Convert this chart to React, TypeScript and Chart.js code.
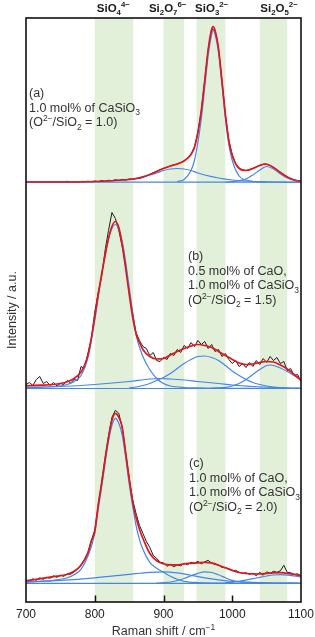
import React, { useEffect, useRef } from "react";
import { Chart, registerables } from "chart.js";

Chart.register(...registerables);

// ---------- axes ----------
const X_MIN = 700;
const X_MAX = 1100;
const X_STEP = 100;
const Y_MIN = 0;
const Y_MAX = 584;
const INNER_TICKS = [800, 900, 1000];

// ---------- highlighted bands (cm-1) ----------
const BAND_FROM = [800, 900, 948, 1040];
const BAND_TO = [856, 930, 990, 1080];
const BAND_LABEL_AT = [827, 906, 970, 1068];
const BAND_LABELS: [string, string][][] = [
  [["SiO", ""], ["4", "sub"], ["4\u2212", "sup"]],
  [["Si", ""], ["2", "sub"], ["O", ""], ["7", "sub"], ["6\u2212", "sup"]],
  [["SiO", ""], ["3", "sub"], ["2\u2212", "sup"]],
  [["Si", ""], ["2", "sub"], ["O", ""], ["5", "sub"], ["2\u2212", "sup"]],
];

// vertical offsets of the three stacked spectra (a), (b), (c)
const OFFSETS = [419.5, 213.5, 18.7];

// ---------- measured spectra (black), common grid ----------
const RAW_X = [
  700, 705, 710, 715, 720, 725, 730, 735, 740, 745, 750, 755, 760, 765, 770, 775, 780, 785, 790, 795,
  800, 805, 810, 815, 820, 825, 830, 835, 840, 845, 850, 855, 860, 865, 870, 875, 880, 885, 890, 895,
  900, 905, 910, 915, 920, 925, 930, 935, 940, 945, 950, 955, 960, 965, 970, 975, 980, 985, 990, 995,
  1000, 1005, 1010, 1015, 1020, 1025, 1030, 1035, 1040, 1045, 1050, 1055, 1060, 1065, 1070, 1075, 1080,
  1085, 1090, 1095, 1100,
];
const RAW_A = [
  0.5, 0.3, 0.8, 0.4, 0.6, 0.2, 0.7, 0.5, 0.3, 0.9, 0.4, 0.6, 1.2, 0.5, 0.8, 0.4, 1.0, 0.6, 1.2, 0.7,
  1.5, 0.9, 2.0, 1.2, 2.3, 1.6, 2.8, 2.0, 3.2, 2.4, 3.6, 3.0, 4.2, 4.0, 5.2, 6.5, 8.0, 9.8, 11.2, 12.8,
  14.2, 15.3, 16.6, 17.6, 18.6, 20.0, 21.8, 24.2, 28.5, 35.5, 50, 72, 102, 133, 153.5, 152, 134, 102, 68, 42,
  27.5, 19, 14.5, 12.5, 12, 12.8, 14.2, 15.6, 17, 18.2, 18.4, 17.2, 15.2, 12.8, 10.2, 7.8, 5.6,
  3.8, 2.6, 1.8, 1.4,
];
const RAW_B = [
  4, 6, 3, 9, 12, 5, 7, 3, 6, 2.5, 5, 4, 8, 5.5, 9, 8, 22, 20, 35, 50,
  76, 96, 112, 138, 158, 176, 170, 158, 142, 124, 96, 76, 56, 48, 42, 40, 33, 36, 28, 27,
  31, 29, 35, 33, 39, 36, 43, 40, 46, 42, 48, 44, 47, 40, 44, 37, 39, 32, 35, 29,
  25, 28, 22, 25, 21, 26, 22, 28, 24, 30, 26, 32, 28, 31, 25, 27, 18,
  20, 13, 14, 7,
];
const RAW_C = [
  3.5, 2, 4.5, 3, 5.5, 4, 6, 5, 7.5, 6, 8, 7, 9.5, 9, 11.5, 14, 18.5, 24, 31, 43,
  53, 78, 101, 125, 147, 166, 173, 170, 155, 131, 106, 84, 70, 58, 50, 42, 36, 28, 25, 21,
  20.5, 17, 19, 16.5, 18.5, 17.5, 20, 18.5, 21, 20, 22, 19.5, 21.5, 23, 20, 19, 18.5, 16, 15.5, 14.5,
  12.5, 13, 11, 10, 10.5, 9, 10, 7.5, 11, 8, 11.5, 10, 12, 11, 12.5, 18, 11,
  10.5, 9, 9.5, 7.5,
];

// ---------- fitted envelopes (red) ----------
const FIT_A_X = [700, 750, 800, 820, 840, 860, 880, 900, 910, 920, 930, 940, 945, 950, 955, 960, 965, 970, 972, 975, 980, 985, 990, 995, 1000, 1010, 1020, 1030, 1040, 1048, 1060, 1070, 1080, 1090, 1100];
const FIT_A_Y = [0.5, 0.5, 1, 1.5, 2.5, 3.8, 8, 14, 16.5, 18.5, 21.5, 28, 35, 50, 72, 102, 133, 153, 156, 152, 134, 102, 68, 42, 27, 14, 12, 14, 17, 18.5, 15, 10, 5.5, 2.5, 1.5];

const FIT_B_X = [700, 720, 740, 750, 760, 770, 780, 785, 790, 795, 800, 805, 810, 815, 820, 825, 830, 835, 840, 845, 850, 855, 860, 865, 870, 880, 890, 900, 910, 920, 930, 940, 950, 960, 970, 980, 990, 1000, 1010, 1020, 1030, 1040, 1050, 1060, 1070, 1080, 1090, 1100];
const FIT_B_Y = [2.7, 3.3, 4, 5, 6.8, 10, 16.6, 23, 33, 50, 72, 94, 114, 133, 150, 162, 167, 161, 143, 120, 95, 72, 55, 46, 39, 32, 29.5, 30, 33.5, 37, 40, 42.5, 44, 43, 41, 37, 33, 29, 25.5, 24, 24.5, 26, 27, 26.5, 23.5, 19.5, 14, 8];

const FIT_C_X = [700, 720, 740, 760, 770, 780, 790, 795, 800, 805, 810, 815, 820, 825, 830, 835, 840, 845, 850, 855, 860, 865, 870, 880, 890, 900, 910, 920, 930, 940, 950, 960, 970, 980, 990, 1000, 1010, 1020, 1030, 1040, 1050, 1060, 1070, 1080, 1090, 1100];
const FIT_C_Y = [2.5, 4.5, 6.6, 9, 12, 18, 30, 42, 52, 78, 100, 124, 146, 163, 170, 166, 156, 130, 105, 82, 66, 54, 45, 30, 22.5, 19.5, 18.5, 18.5, 19.5, 20, 20.5, 21, 20.5, 18, 15.5, 13, 10.8, 9.8, 9.4, 9.3, 9.8, 10.4, 10.6, 10, 8.8, 7.5];

// ---------- fitted components (blue) ----------
const COMP_A: [number[], number[]][] = [
  [[920, 930, 940, 945, 950, 955, 960, 965, 970, 972, 975, 980, 985, 990, 995, 1000, 1010, 1020, 1030, 1050],
   [1, 3, 12, 22, 40, 64, 95, 127, 148, 152, 148, 130, 98, 64, 38, 22, 6.5, 2.5, 1, 0.3]],
  [[700, 760, 800, 820, 840, 860, 880, 890, 900, 910, 920, 930, 940, 950, 960, 980, 1000, 1020, 1040, 1070, 1100],
   [0.2, 0.5, 1, 1.5, 2.5, 4, 7.5, 9.5, 12, 13.5, 14, 13.5, 12, 9.5, 7.5, 4.5, 2.5, 1.5, 0.8, 0.3, 0.1]],
  [[990, 1000, 1010, 1020, 1030, 1040, 1050, 1060, 1070, 1080, 1090, 1100],
   [0.3, 0.8, 1.8, 3.5, 7.5, 12.5, 16, 13.5, 8.5, 4.5, 2, 1]],
  [[700, 1100], [0.3, 0.3]],
];
const COMP_B: [number[], number[]][] = [
  [[700, 740, 760, 770, 780, 790, 800, 810, 820, 830, 840, 850, 860, 870, 880, 890, 900, 910, 930, 960, 1000, 1100],
   [0.8, 2, 4, 7, 13, 31, 68, 114, 150, 164, 147, 102, 54, 32, 19, 10, 5, 2.5, 1, 0.5, 0.2, 0]],
  [[700, 750, 800, 850, 880, 895, 910, 930, 950, 980, 1000, 1030, 1060, 1100],
   [1, 2, 4, 7, 9.5, 10, 9.5, 8.5, 7, 5, 3.5, 2, 1, 0.3]],
  [[850, 860, 870, 880, 890, 900, 910, 920, 930, 940, 950, 960, 970, 980, 990, 1000, 1010, 1020, 1030, 1040, 1050, 1060, 1080, 1100],
   [0.5, 1.5, 3, 5, 8, 11, 15, 20, 25, 29, 32, 32.5, 31, 28, 23, 17.5, 13, 9, 6, 4, 2.5, 1.5, 0.5, 0.2]],
  [[970, 980, 990, 1000, 1010, 1020, 1030, 1040, 1050, 1055, 1060, 1070, 1080, 1090, 1100],
   [0.3, 0.6, 1.2, 2.5, 5, 9, 14, 19, 23, 23.5, 23, 20.5, 17, 13, 9]],
  [[700, 1100], [0, 0]],
];
const COMP_C: [number[], number[]][] = [
  [[700, 740, 760, 770, 780, 790, 800, 805, 810, 815, 820, 825, 830, 835, 840, 845, 850, 855, 860, 865, 870, 880, 890, 900, 910, 920, 930, 950, 1000],
   [1, 3, 5.5, 8.5, 14, 27, 50, 74, 96, 120, 142, 158, 165, 160, 148, 126, 100, 78, 58, 44, 34, 21, 15, 11, 7, 4, 2, 0.8, 0.2]],
  [[700, 750, 800, 850, 880, 900, 920, 940, 960, 980, 1000, 1030, 1060, 1100],
   [1.5, 3, 5.5, 9, 11, 11.5, 10.5, 8, 5.5, 3.5, 2, 1, 0.5, 0.3]],
  [[890, 900, 910, 920, 930, 940, 950, 960, 970, 980, 990, 1000, 1010, 1020, 1040],
   [0.2, 0.6, 1.3, 2.8, 4.8, 7.5, 10, 11.5, 10.8, 8.5, 5.5, 3, 1.6, 0.8, 0.2]],
  [[990, 1000, 1010, 1020, 1030, 1040, 1050, 1060, 1070, 1080, 1090, 1100],
   [0.5, 1, 2, 3.2, 4.6, 6, 7.3, 8.3, 8.6, 8.2, 7.3, 6.2]],
  [[700, 1100], [0, 0]],
];

// ---------- annotations ----------
type Seg = [string, string];
const NOTE_A: Seg[][] = [
  [["(a)", ""]],
  [["1.0 mol% of CaSiO", ""], ["3", "sub"]],
  [["(O", ""], ["2\u2212", "sup"], ["/SiO", ""], ["2", "sub"], [" = 1.0)", ""]],
];
const NOTE_B: Seg[][] = [
  [["(b)", ""]],
  [["0.5 mol% of CaO,", ""]],
  [["1.0 mol% of CaSiO", ""], ["3", "sub"]],
  [["(O", ""], ["2\u2212", "sup"], ["/SiO", ""], ["2", "sub"], [" = 1.5)", ""]],
];
const NOTE_C: Seg[][] = [
  [["(c)", ""]],
  [["1.0 mol% of CaO,", ""]],
  [["1.0 mol% of CaSiO", ""], ["3", "sub"]],
  [["(O", ""], ["2\u2212", "sup"], ["/SiO", ""], ["2", "sub"], [" = 2.0)", ""]],
];

const FONT = '"Liberation Sans", Arial, Helvetica, sans-serif';
const RED = "#e3161d";
const BLUE = "#4386ec";
const BLACK = "#1c1c1c";

function drawRich(
  ctx: CanvasRenderingContext2D,
  x: number,
  y: number,
  segs: Seg[],
  size: number,
  weight: string,
  align: "left" | "center",
  color: string
) {
  const parts = segs.map(([t, k]) => {
    const fs = k ? size * 0.68 : size;
    ctx.font = `${weight} ${fs}px ${FONT}`;
    return { t, k, fs, w: ctx.measureText(t).width };
  });
  const total = parts.reduce((s, p) => s + p.w, 0);
  let cx = align === "center" ? x - total / 2 : x;
  ctx.fillStyle = color;
  ctx.textAlign = "left";
  ctx.textBaseline = "alphabetic";
  for (const p of parts) {
    ctx.font = `${weight} ${p.fs}px ${FONT}`;
    const dy = p.k === "sub" ? size * 0.28 : p.k === "sup" ? -size * 0.42 : 0;
    ctx.fillText(p.t, cx, y + dy);
    cx += p.w;
  }
}

const decoPlugin = {
  id: "deco",
  beforeDatasetsDraw(chart: any) {
    const { ctx, chartArea } = chart;
    const xs = chart.scales.x;
    ctx.save();
    ctx.fillStyle = "#e2efd9";
    BAND_FROM.forEach((f, i) => {
      const x0 = xs.getPixelForValue(f);
      const x1 = xs.getPixelForValue(BAND_TO[i]);
      ctx.fillRect(x0, chartArea.top, x1 - x0, chartArea.bottom - chartArea.top);
    });
    ctx.restore();
  },
  afterDraw(chart: any) {
    const { ctx, chartArea } = chart;
    const xs = chart.scales.x;
    const ys = chart.scales.y;
    ctx.save();
    // frame
    ctx.strokeStyle = "#111";
    ctx.lineWidth = 1.6;
    ctx.strokeRect(chartArea.left, chartArea.top, chartArea.right - chartArea.left, chartArea.bottom - chartArea.top);
    // inward ticks
    ctx.lineWidth = 1.5;
    INNER_TICKS.forEach((v) => {
      const px = Math.round(xs.getPixelForValue(v)) + 0.5;
      ctx.beginPath();
      ctx.moveTo(px, chartArea.bottom);
      ctx.lineTo(px, chartArea.bottom - 6.5);
      ctx.stroke();
    });
    // band labels above frame
    BAND_LABELS.forEach((segs, i) => {
      drawRich(ctx, xs.getPixelForValue(BAND_LABEL_AT[i]), chartArea.top - 6, segs, 11.5, "bold", "center", "#1a1a1a");
    });
    // annotations
    const notes: [Seg[][], number, number][] = [
      [NOTE_A, 29, 97],
      [NOTE_B, 188, 260],
      [NOTE_C, 189, 467],
    ];
    notes.forEach(([lines, x, y0]) => {
      lines.forEach((segs, j) => {
        drawRich(ctx, x, y0 + j * 14.6, segs, 12.5, "normal", "left", "#333");
      });
    });
    // axis titles
    const cx = (chartArea.left + chartArea.right) / 2;
    drawRich(ctx, cx, 635, [["Raman shift / cm", ""], ["\u22121", "sup"]], 12.5, "normal", "center", "#333");
    ctx.save();
    ctx.translate(16, (ys.top + ys.bottom) / 2);
    ctx.rotate(-Math.PI / 2);
    ctx.font = `12.5px ${FONT}`;
    ctx.fillStyle = "#333";
    ctx.textAlign = "center";
    ctx.textBaseline = "alphabetic";
    ctx.fillText("Intensity / a.u.", 0, 0);
    ctx.restore();
    ctx.restore();
  },
};

function pts(xs: number[], ys: number[], off: number) {
  return xs.map((x, i) => ({ x, y: ys[i] + off }));
}

export default function App() {
  const ref = useRef<HTMLCanvasElement | null>(null);

  useEffect(() => {
    document.body.style.margin = "0";
    const canvas = ref.current;
    if (!canvas) return;

    const datasets: any[] = [];
    const fits: [number[], number[]][] = [
      [FIT_A_X, FIT_A_Y],
      [FIT_B_X, FIT_B_Y],
      [FIT_C_X, FIT_C_Y],
    ];
    const comps = [COMP_A, COMP_B, COMP_C];
    const raws = [RAW_A, RAW_B, RAW_C];

    fits.forEach(([fx, fy], i) => {
      datasets.push({
        data: pts(fx, fy, OFFSETS[i]),
        borderColor: RED,
        borderWidth: 1.7,
        cubicInterpolationMode: "monotone",
        order: 0,
      });
    });
    comps.forEach((list, i) => {
      list.forEach(([cxs, cys]) => {
        datasets.push({
          data: pts(cxs, cys, OFFSETS[i]),
          borderColor: BLUE,
          borderWidth: 1.2,
          cubicInterpolationMode: "monotone",
          order: 1,
        });
      });
    });
    raws.forEach((r, i) => {
      datasets.push({
        data: pts(RAW_X, r, OFFSETS[i]),
        borderColor: BLACK,
        borderWidth: 1,
        tension: 0,
        order: 2,
      });
    });

    const chart = new Chart(canvas, {
      type: "line",
      data: { datasets },
      options: {
        animation: false,
        responsive: false,
        maintainAspectRatio: false,
        devicePixelRatio: 1,
        events: [],
        elements: { point: { radius: 0 }, line: { fill: false } },
        layout: { padding: { left: 0, right: 14, top: 18, bottom: 0 } },
        plugins: { legend: { display: false }, tooltip: { enabled: false } },
        scales: {
          x: {
            type: "linear",
            min: X_MIN,
            max: X_MAX,
            grid: { display: false, drawTicks: false },
            border: { display: false },
            ticks: {
              stepSize: X_STEP,
              padding: 5,
              maxRotation: 0,
              autoSkip: false,
              color: "#222",
              font: { size: 12, family: FONT },
              callback: (v: any) => String(v),
            },
            afterFit: (s: any) => {
              s.height = 35;
              s.paddingLeft = 0;
              s.paddingRight = 0;
            },
          },
          y: {
            type: "linear",
            min: Y_MIN,
            max: Y_MAX,
            grid: { display: false, drawTicks: false },
            border: { display: false },
            ticks: { display: false },
            afterFit: (s: any) => {
              s.width = 26;
            },
          },
        },
      },
      plugins: [decoPlugin],
    });

    return () => {
      chart.destroy();
    };
  }, []);

  return (
    <div style={{ position: "absolute", left: 0, top: 0, width: 315, height: 637 }}>
      <canvas ref={ref} width={315} height={637} style={{ display: "block" }} />
    </div>
  );
}
